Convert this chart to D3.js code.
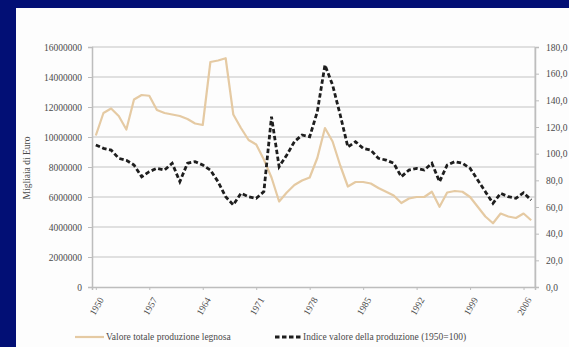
<!DOCTYPE html>
<html>
<head>
<meta charset="utf-8">
<script src="https://cdn.jsdelivr.net/npm/d3@7"></script>
<style>
  body { margin: 0; background: #020f75; }
  #chart { position: absolute; left: 0; top: 0; }
  text { font-family: "Liberation Serif", "DejaVu Serif", serif; }
</style>
</head>
<body>
<div id="chart"></div>
<script>
// Data (1950 - 2007)
var years = d3.range(1950, 2008);

// Valore totale produzione legnosa (migliaia di euro, left axis)
var valoreTotale = [
  10100000, 11600000, 11900000, 11400000, 10500000, 12500000, 12800000, 12750000,
  11800000, 11600000, 11500000, 11400000, 11200000, 10900000, 10800000, 15000000,
  15100000, 15250000, 11500000, 10600000, 9800000, 9500000, 8500000, 7300000,
  5700000, 6300000, 6800000, 7100000, 7300000, 8600000, 10600000, 9700000,
  8100000, 6700000, 7000000, 7000000, 6900000, 6600000, 6350000, 6100000,
  5600000, 5900000, 6000000, 6000000, 6350000, 5350000, 6300000, 6400000,
  6350000, 6000000, 5350000, 4700000, 4250000, 4900000, 4700000, 4600000,
  4900000, 4450000
];

// Indice valore della produzione (1950=100, right axis)
var indiceValore = [
  106.5, 104, 102.7, 96.5, 95, 91.5, 82.7, 86.5,
  89, 87.7, 92.8, 79, 92.8, 94, 91.5, 87.7,
  79, 67.7, 61.5, 70.3, 67.7, 66.5, 71.5, 127.7,
  90.2, 99, 109, 114, 112.7, 131.5, 166.5, 151.5,
  129, 105, 109, 104, 102.7, 96.5, 95.2, 92.8,
  82.7, 87.7, 89, 87.7, 92.8, 79, 91.5, 94,
  92.8, 89, 80.2, 71.5, 62.8, 70.3, 67.7, 66.5,
  70.7, 65.2
];

var leftTicks = [0, 2000000, 4000000, 6000000, 8000000, 10000000, 12000000, 14000000, 16000000];
var rightTicks = [0, 20, 40, 60, 80, 100, 120, 140, 160, 180];
var xTickYears = [1950, 1957, 1964, 1971, 1978, 1985, 1992, 1999, 2006];

var seriesNames = ["Valore totale produzione legnosa", "Indice valore della produzione (1950=100)"];

var W = 569, H = 347;
var plot = { left: 92, right: 535, top: 47, bottom: 287 };

var svg = d3.select("#chart").append("svg")
  .attr("width", W)
  .attr("height", H);

// white panel on the navy slide
svg.append("rect")
  .attr("x", 16).attr("y", 8)
  .attr("width", W - 16).attr("height", H - 8)
  .attr("fill", "#fdfdfd");

// scales
var x = d3.scalePoint()
  .domain(years)
  .range([plot.left, plot.right])
  .padding(0.5);

var yLeft = d3.scaleLinear()
  .domain([0, 16000000])
  .range([plot.bottom, plot.top]);

var yRight = d3.scaleLinear()
  .domain([0, 180])
  .range([plot.bottom, plot.top]);

// horizontal gridlines
svg.append("g")
  .selectAll("line")
  .data(leftTicks.slice(1))
  .enter()
  .append("line")
  .attr("x1", plot.left).attr("x2", plot.right)
  .attr("y1", function (d) { return yLeft(d); })
  .attr("y2", function (d) { return yLeft(d); })
  .attr("stroke", "#d6d6d6")
  .attr("stroke-width", 1.5);

// right border of plot
svg.append("line")
  .attr("x1", plot.right).attr("x2", plot.right)
  .attr("y1", plot.top).attr("y2", plot.bottom)
  .attr("stroke", "#c8c8c8");

// left axis
var gl = svg.append("g")
  .attr("transform", "translate(" + plot.left + ",0)")
  .call(d3.axisLeft(yLeft).tickValues(leftTicks).tickSize(4).tickPadding(6)
    .tickFormat(function (d) { return String(d); }));

// right axis
var gr = svg.append("g")
  .attr("transform", "translate(" + plot.right + ",0)")
  .call(d3.axisRight(yRight).tickValues(rightTicks).tickSize(4).tickPadding(7)
    .tickFormat(function (d) { return d.toFixed(1).replace(".", ","); }));

// bottom axis
var gb = svg.append("g")
  .attr("transform", "translate(0," + plot.bottom + ")")
  .call(d3.axisBottom(x).tickValues(xTickYears).tickSize(3).tickPadding(4));

gb.selectAll("text")
  .attr("text-anchor", "end")
  .attr("transform", "translate(5,11) rotate(-60)")
  .attr("dy", "0.35em")
  .attr("y", 0);

[gl, gr, gb].forEach(function (g) {
  g.select(".domain").attr("stroke", "#bdbdbd").attr("stroke-width", 1.5);
  g.selectAll(".tick line").attr("stroke", "#bdbdbd");
  g.selectAll("text")
    .attr("font-size", "9.5px")
    .attr("fill", "#4a4a4a")
    .style("font-family", "'Liberation Serif', serif");
});

// y axis title
svg.append("text")
  .attr("transform", "translate(30,168) rotate(-90)")
  .attr("text-anchor", "middle")
  .attr("font-size", "9.5px")
  .attr("fill", "#4a4a4a")
  .text("Migliaia di Euro");

// lines
var lineLeft = d3.line()
  .x(function (d, i) { return x(years[i]); })
  .y(function (d) { return yLeft(d); });

var lineRight = d3.line()
  .x(function (d, i) { return x(years[i]); })
  .y(function (d) { return yRight(d); });

svg.append("path")
  .datum(valoreTotale)
  .attr("fill", "none")
  .attr("stroke", "#e5caa3")
  .attr("stroke-width", 2.2)
  .attr("stroke-linejoin", "round")
  .attr("d", lineLeft);

svg.append("path")
  .datum(indiceValore)
  .attr("fill", "none")
  .attr("stroke", "#1e1e1e")
  .attr("stroke-width", 2.8)
  .attr("stroke-dasharray", "4.5,2.5")
  .attr("d", lineRight);

// legend
var legend = svg.append("g").attr("font-size", "9.5px").attr("fill", "#4a4a4a");

legend.append("line")
  .attr("x1", 75).attr("x2", 104).attr("y1", 337).attr("y2", 337)
  .attr("stroke", "#e5caa3").attr("stroke-width", 2.2);
legend.append("text")
  .attr("x", 106).attr("y", 340)
  .text(seriesNames[0]);

legend.append("line")
  .attr("x1", 275).attr("x2", 302).attr("y1", 337).attr("y2", 337)
  .attr("stroke", "#1e1e1e").attr("stroke-width", 2.8)
  .attr("stroke-dasharray", "4.5,2.5");
legend.append("text")
  .attr("x", 303).attr("y", 340)
  .text(seriesNames[1]);
</script>
</body>
</html>
